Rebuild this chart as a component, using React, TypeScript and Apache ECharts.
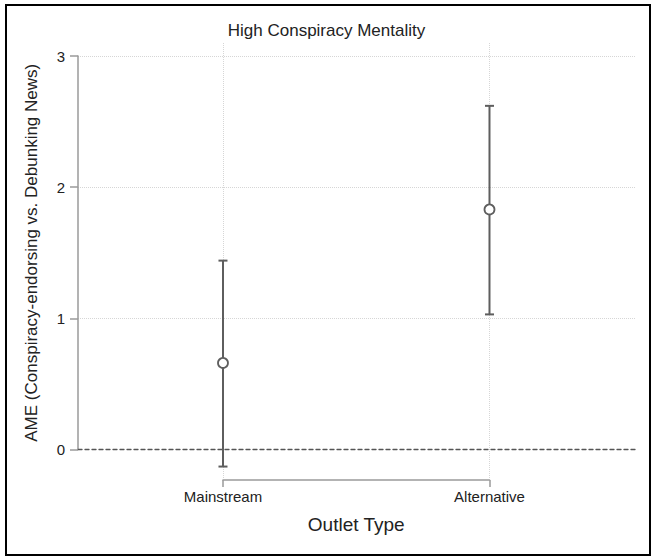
import React, { useEffect, useRef } from "react";
import * as echarts from "echarts";

const categories = ["Mainstream", "Alternative"];
const estimates = [0.66, 1.83];
const lowerCI = [-0.13, 1.03];
const upperCI = [1.44, 2.62];
const yTicks = [0, 1, 2, 3];

const FONT = "'Liberation Sans', Arial, Helvetica, sans-serif";

export default function App() {
  const ref = useRef<HTMLDivElement>(null);

  useEffect(() => {
    if (!ref.current) return;
    const chart = echarts.init(ref.current, null, { renderer: "svg" });
    const errData = categories.map((_, i) => [i, lowerCI[i], upperCI[i]]);
    const ptData = categories.map((_, i) => [i, estimates[i]]);
    chart.setOption({
      animation: false,
      backgroundColor: "#fff",
      textStyle: { fontFamily: FONT },
      title: {
        text: "High Conspiracy Mentality",
        left: "center",
        top: 17,
        textStyle: { fontSize: 17, fontWeight: "normal", color: "#222", fontFamily: FONT },
      },
      grid: [
        { left: 78, top: 56, right: 18, bottom: 109.5 },
        { left: 223, width: 266.5, top: 43, bottom: 81 },
      ],
      xAxis: [
        {
          gridIndex: 0,
          type: "value",
          min: -0.544,
          max: 1.546,
          axisLine: { show: true, onZero: true, lineStyle: { color: "#555", width: 1.3, type: [4, 3] } },
          axisTick: { show: false },
          axisLabel: { show: false },
          splitLine: { show: false },
        },
        {
          gridIndex: 1,
          type: "value",
          min: 0,
          max: 1,
          interval: 1,
          position: "bottom",
          offset: 2,
          axisLine: { show: true, onZero: false, lineStyle: { color: "#9a9a9a", width: 1.5 } },
          axisTick: { show: true, length: 7, lineStyle: { color: "#9a9a9a", width: 1.5 } },
          axisLabel: {
            show: true,
            margin: 9,
            fontSize: 15,
            color: "#222",
            fontFamily: FONT,
            showMinLabel: true,
            showMaxLabel: true,
            formatter: (v: number) => categories[Math.round(v)] ?? "",
          },
          splitLine: { show: true, lineStyle: { color: "#d6d6d6", type: "dotted", width: 1 } },
          name: "Outlet Type",
          nameLocation: "middle",
          nameGap: 35,
          nameTextStyle: { fontSize: 19, color: "#222", fontFamily: FONT },
        },
      ],
      yAxis: [
        {
          gridIndex: 0,
          type: "value",
          min: yTicks[0],
          max: yTicks[yTicks.length - 1],
          interval: 1,
          axisLine: { show: true, onZero: false, lineStyle: { color: "#9a9a9a", width: 1.5 } },
          axisTick: { show: true, length: 8, lineStyle: { color: "#9a9a9a", width: 1.5 } },
          axisLabel: { margin: 13, fontSize: 15, color: "#222", fontFamily: FONT },
          splitLine: {
            show: true,
            showMinLine: false,
            lineStyle: { color: "#d6d6d6", type: "dotted", width: 1 },
          },
          name: "AME (Conspiracy-endorsing vs. Debunking News)",
          nameLocation: "middle",
          nameGap: 38,
          nameTextStyle: { fontSize: 17, color: "#222", fontFamily: FONT },
        },
        {
          gridIndex: 1,
          type: "value",
          min: 0,
          max: 1,
          show: false,
        },
      ],
      series: [
        {
          type: "custom",
          xAxisIndex: 0,
          yAxisIndex: 0,
          clip: false,
          data: errData,
          renderItem: (params: any, api: any) => {
            const x = api.value(0);
            const lo = api.coord([x, api.value(1)]);
            const hi = api.coord([x, api.value(2)]);
            const half = 4.5;
            const style = { stroke: "#5e5e5e", lineWidth: 2 };
            return {
              type: "group",
              children: [
                { type: "line", shape: { x1: lo[0], y1: lo[1], x2: hi[0], y2: hi[1] }, style },
                { type: "line", shape: { x1: lo[0] - half, y1: lo[1], x2: lo[0] + half, y2: lo[1] }, style },
                { type: "line", shape: { x1: hi[0] - half, y1: hi[1], x2: hi[0] + half, y2: hi[1] }, style },
              ],
            };
          },
          z: 3,
        },
        {
          type: "scatter",
          xAxisIndex: 0,
          yAxisIndex: 0,
          data: ptData,
          symbol: "circle",
          symbolSize: 10,
          itemStyle: { color: "#fff", borderColor: "#5e5e5e", borderWidth: 1.8, opacity: 1 },
          z: 4,
        },
      ],
    });
    return () => chart.dispose();
  }, []);

  return (
    <div style={{ position: "absolute", left: 0, top: 0, width: 653, height: 559, background: "#fff" }}>
      <div ref={ref} style={{ position: "absolute", left: 0, top: 0, width: 653, height: 559 }} />
      <div
        style={{
          position: "absolute",
          left: 5,
          top: 4,
          width: 646,
          height: 552,
          boxSizing: "border-box",
          border: "2px solid #000",
          pointerEvents: "none",
        }}
      />
    </div>
  );
}
